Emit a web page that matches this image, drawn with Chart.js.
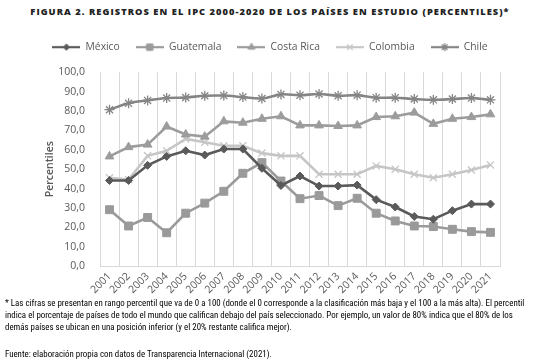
<!DOCTYPE html>
<html>
<head>
<meta charset="utf-8">
<script src="https://cdn.jsdelivr.net/npm/chart.js@4"></script>
<style>
  body { margin:0; background:#fff; width:540px; height:363px; overflow:hidden; position:relative; font-family:"Open Sans", sans-serif; }
  #titulo { position:absolute; top:5px; left:0; width:540px; text-align:center; font-weight:800; font-size:9.3px; letter-spacing:1.05px; color:#222; }
  #wrap { position:absolute; top:0; left:0; width:540px; height:300px; }
  .nota { position:absolute; left:5px; width:535px; font-family:"Liberation Sans Narrow", "Roboto Condensed", "Open Sans", sans-serif; font-size:8.9px; line-height:12px; color:#000; white-space:nowrap; }
</style>
</head>
<body>
<div id="titulo">FIGURA 2. REGISTROS EN EL IPC 2000-2020 DE LOS PAÍSES EN ESTUDIO (PERCENTILES)*</div>
<div id="wrap"><canvas id="ipcChart"></canvas></div>
<div class="nota" style="top:297px">* Las cifras se presentan en rango percentil que va de 0 a 100 (donde el 0 corresponde a la clasificación más baja y el 100 a la más alta). El percentil<br>indica el porcentaje de países de todo el mundo que califican debajo del país seleccionado. Por ejemplo, un valor de 80% indica que el 80% de los<br>demás países se ubican en una posición inferior (y el 20% restante califica mejor).</div>
<div class="nota" style="top:348px">Fuente: elaboración propia con datos de Transparencia Internacional (2021).</div>
<script>
const years = ['2001','2002','2003','2004','2005','2006','2007','2008','2009','2010','2011','2012','2013','2014','2015','2016','2017','2018','2019','2020','2021'];
const mexico    = [44.2,44.2,52.0,56.6,59.5,57.3,60.4,60.4,50.5,41.6,46.5,41.3,41.3,41.8,34.3,30.5,25.6,24.2,28.6,32.0,32.0];
const guatemala = [29.1,20.7,25.1,17.2,27.3,32.5,38.6,47.9,53.4,43.9,34.8,36.4,31.2,35.0,27.3,23.3,20.7,20.4,19.0,17.8,17.4];
const costaRica = [56.6,61.4,62.7,72.0,67.9,66.8,74.7,74.0,76.0,77.3,72.6,72.6,72.3,72.6,76.9,77.3,79.2,73.4,76.0,76.9,78.3];
const colombia  = [45.6,44.7,56.9,59.5,65.6,63.9,62.1,62.1,58.3,56.9,56.9,47.4,47.4,47.4,51.7,50.0,47.4,45.6,47.4,49.6,52.2];
const chile     = [80.7,84.0,85.5,86.7,87.0,87.9,88.0,87.2,86.5,88.6,88.2,88.8,87.9,88.2,86.9,86.9,86.2,85.8,86.2,86.7,85.8];
const yTicks = [0,10,20,30,40,50,60,70,80,90,100];

const ctx = document.getElementById('ipcChart').getContext('2d');

// simbolo de leyenda: linea con marcador, como en Excel
function legendIcon(color, style, r, bw) {
    const c = document.createElement('canvas');
    c.width = 28; c.height = 12;
    const g = c.getContext('2d');
    g.strokeStyle = color; g.lineWidth = 2.2;
    g.beginPath(); g.moveTo(0, 6); g.lineTo(28, 6); g.stroke();
    g.fillStyle = color; g.lineWidth = bw;
    Chart.helpers.drawPoint(g, { pointStyle: style, radius: r, borderWidth: bw }, 14, 6);
    return c;
}

const series = [
    { label:'México',     data:mexico,    color:'#5a5a5a', style:'rectRot',  r:4,   bw:1,   tension:0 },
    { label:'Guatemala',  data:guatemala, color:'#9a9a9a', style:'rect',     r:5.6, bw:1,   tension:0 },
    { label:'Costa Rica', data:costaRica, color:'#9c9c9c', style:'triangle', r:5,   bw:1,   tension:0 },
    { label:'Colombia',   data:colombia,  color:'#c6c6c6', style:'crossRot', r:5,   bw:1.3, tension:0 },
    { label:'Chile',      data:chile,     color:'#858585', style:'star',     r:5,   bw:1.3, tension:0.35 }
];

const data = {
    labels: years,
    datasets: series.map(s => ({
        label: s.label,
        data: s.data,
        borderColor: s.color,
        backgroundColor: s.color,
        borderWidth: 2.6,
        pointStyle: s.style,
        pointRadius: s.r,
        pointBorderWidth: s.bw,
        pointBorderColor: s.color,
        pointBackgroundColor: s.color,
        tension: s.tension,
        icon: legendIcon(s.color, s.style, s.r * 0.8, s.bw)
    }))
};

// más espacio entre la leyenda y el gráfico
const legendGap = {
    id: 'legendGap',
    beforeInit(chart) {
        const fit = chart.legend.fit;
        chart.legend.fit = function () {
            fit.call(this);
            this.height += 10;
        };
    }
};

new Chart(ctx, {
    type: 'line',
    data: data,
    plugins: [legendGap],
    options: {
        responsive: true,
        maintainAspectRatio: false,
        animation: false,
        layout: { padding: { top: 26, right: 20, left: 20, bottom: 0 } },
        plugins: {
            legend: {
                position: 'top',
                labels: {
                    usePointStyle: true,
                    pointStyleWidth: 28,
                    boxHeight: 10,
                    color: '#595959',
                    font: { family: 'Open Sans', size: 10.3 },
                    padding: 16,
                    generateLabels: chart => chart.data.datasets.map((ds, i) => ({
                        text: ds.label,
                        pointStyle: ds.icon,
                        fontColor: '#595959',
                        lineWidth: 0,
                        strokeStyle: 'transparent',
                        fillStyle: 'transparent',
                        datasetIndex: i
                    }))
                }
            },
            tooltip: { enabled: false }
        },
        scales: {
            x: {
                offset: true,
                grid: { offset: true, color: '#d9d9d9', drawTicks: false, lineWidth: 1 },
                border: { color: '#d9d9d9' },
                ticks: {
                    color: '#595959',
                    font: { family: 'Open Sans', size: 10.5 },
                    autoSkip: false,
                    maxRotation: 45, minRotation: 45,
                    padding: 4
                }
            },
            y: {
                min: 0, max: 100,
                afterBuildTicks: s => { s.ticks = yTicks.map(v => ({ value: v })); },
                afterFit: s => { s.width = 80; },
                grid: { display: false },
                border: { display: false },
                title: {
                    display: true, text: 'Percentiles', color: '#595959',
                    font: { family: 'Open Sans', size: 10.5, weight: '600' },
                    padding: { top: 24, bottom: 0 }
                },
                ticks: {
                    color: '#595959',
                    font: { family: 'Open Sans', size: 10.5 },
                    padding: 7,
                    callback: v => v.toFixed(1).replace('.', ',')
                }
            },
            // eje vacío a la derecha, sólo para reservar margen
            yRight: {
                position: 'right',
                min: 0, max: 100,
                afterFit: s => { s.width = 20; },
                grid: { display: false },
                border: { display: false },
                ticks: { display: false }
            }
        }
    }
});
</script>
</body>
</html>
